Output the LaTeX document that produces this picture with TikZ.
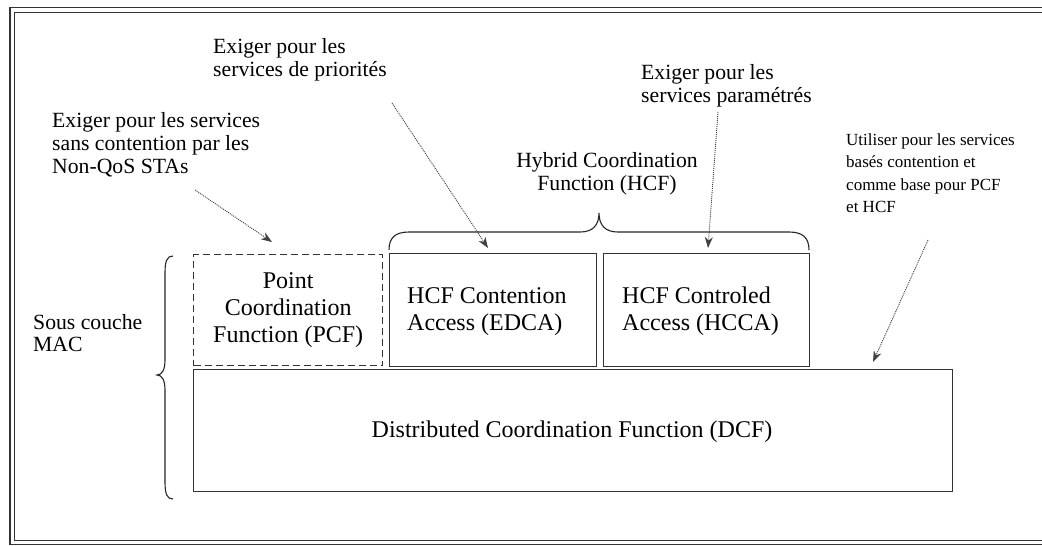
\documentclass[tikz,border=0pt]{standalone}
\usepackage{graphicx}
\usepackage{fontspec}
\setmainfont{Liberation Serif}
\usetikzlibrary{arrows.meta}
\newcommand{\stxt}[4]{\scalebox{#1}{\fontsize{10}{#2}\selectfont\begin{tabular}{@{}#3@{}}#4\end{tabular}}}
\begin{document}
\begin{tikzpicture}[x=1pt,y=-1pt,
  txt/.style={inner sep=0pt, anchor=west},
  ctxt/.style={inner sep=0pt},
  box/.style={draw=black!80, line width=1.4pt, anchor=north west, inner sep=0pt},
  dbox/.style={box, dash pattern=on 7pt off 4pt},
  arr/.style={draw=black!75, line width=0.9pt, dash pattern=on 1pt off 1pt,
    -{Stealth[length=11pt,width=8pt]}},
  brc/.style={draw=black!85, line width=1.1pt},
  frame/.style={draw=black!80, line width=1.6pt}]
\useasboundingbox (0,0) rectangle (1042,546);
\fill[white] (0,0) rectangle (1042,546);
\begin{scope}
\clip (0,0) rectangle (1042,546);
\draw[frame] (10,7.5) rectangle (1060,544.5);
\draw[frame] (14.5,12.5) rectangle (1055,540.5);
\end{scope}

% boxes
\node[dbox, minimum width=189pt, minimum height=111pt] (pcf) at (193,254) {};
\node[box, minimum width=207pt, minimum height=113pt] (edca) at (389,253) {};
\node[box, minimum width=206pt, minimum height=113pt] (hcca) at (603,253) {};
\node[box, minimum width=759pt, minimum height=122pt] (dcf) at (193,369) {};

\node[ctxt] (pcft) at (pcf.center) {\stxt{2.4}{11.25}{c}{Point\\Coordination\\Function (PCF)}};
\node[txt] (edcat) at (407,311.5) {\stxt{2.4}{11.25}{l}{HCF Contention\\Access (EDCA)}};
\node[txt] (hccat) at (622,311.5) {\stxt{2.4}{11.25}{l}{HCF Controled\\Access (HCCA)}};
\node[ctxt] (dcft) at (572,432) {\stxt{2.4}{11.25}{c}{Distributed Coordination Function (DCF)}};

% annotations
\node[txt] (t1) at (52,146) {\stxt{2.17}{10.46}{l}{Exiger pour les services\\sans contention par les\\Non-QoS STAs}};
\node[txt] (t2) at (213,60.5) {\stxt{2.17}{10.46}{l}{Exiger pour les\\services de priorités}};
\node[txt] (t3) at (641,86.5) {\stxt{2.17}{10.46}{l}{Exiger pour les\\services paramétrés}};
\node[txt] (t4) at (846,174.5) {\stxt{1.7}{13.24}{l}{Utiliser pour les services\\basés contention et\\comme base pour PCF\\et HCF}};
\node[ctxt] (hcf) at (607,174.5) {\stxt{2.17}{10.46}{c}{Hybrid Coordination\\Function (HCF)}};
\node[txt] (mac) at (33,336) {\stxt{2.17}{10.46}{l}{Sous couche\\MAC}};

% arrow end points
\coordinate (a1s) at (195,190);
\coordinate (a1e) at (272,242);
\coordinate (a2s) at (392,103);
\coordinate (a2e) at (488,248);
\coordinate (a3s) at (718,112);
\coordinate (a3e) at (708,248);
\coordinate (a4s) at (928,240);
\coordinate (a4e) at (873,362);
\draw[arr] (a1s) -- (a1e);
\draw[arr] (a2s) -- (a2e);
\draw[arr] (a3s) -- (a3e);
\draw[arr] (a4s) -- (a4e);

% HCF brace
\draw[brc] (389,250) .. controls (389,238) and (395,232) .. (409,232) -- (580,232)
  .. controls (592,232) and (599,226) .. (599,213)
  .. controls (599,226) and (606,232) .. (618,232) -- (789,232)
  .. controls (803,232) and (809,238) .. (809,250);

% MAC brace
\draw[brc] (173,256) .. controls (167,256) and (165,261) .. (165,273) -- (165,360)
  .. controls (165,370) and (162,375) .. (157,375)
  .. controls (162,375) and (165,380) .. (165,390) -- (165,482)
  .. controls (165,494) and (167,499) .. (173,499);
\end{tikzpicture}
\end{document}
